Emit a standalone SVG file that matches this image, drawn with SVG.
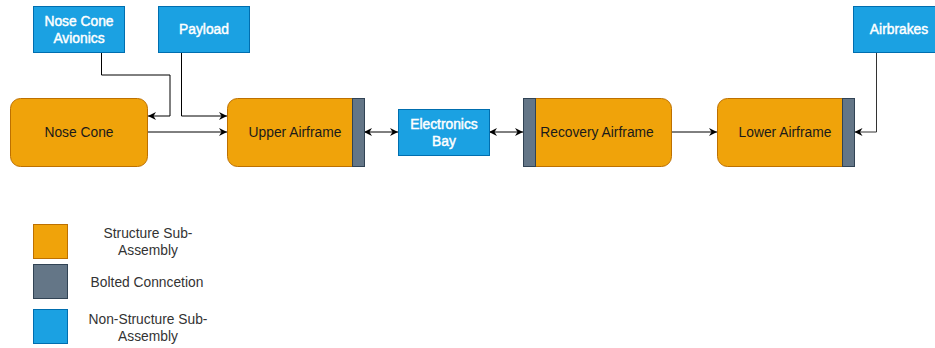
<svg xmlns="http://www.w3.org/2000/svg" width="935" height="348" viewBox="0 0 935 348">
<style>
.struct{fill:#f0a30a;stroke:#bd7000;stroke-width:1}
.bolt{fill:#647687;stroke:#314354;stroke-width:1}
.nons{fill:#1ba1e2;stroke:#006eaf;stroke-width:1}
.t{font-family:"Liberation Sans",Arial,sans-serif;font-size:13.8px;text-anchor:middle}
.dark{fill:#1a1a1a}
.white{fill:#fff;stroke:#fff;stroke-width:0.45px}
.leg{fill:#333}
.c{fill:none;stroke:#000;stroke-width:1}
</style>
<defs>
<marker id="ah" markerWidth="10" markerHeight="10" refX="9" refY="5" orient="auto" markerUnits="userSpaceOnUse">
<path d="M1,1 L9,5 L1,9 L3.5,5 Z" fill="#000"/>
</marker>
<marker id="as" markerWidth="10" markerHeight="10" refX="1" refY="5" orient="auto" markerUnits="userSpaceOnUse">
<path d="M9,1 L1,5 L9,9 L6.5,5 Z" fill="#000"/>
</marker>
</defs>
<rect width="935" height="348" fill="#fff"/>
<g id="connectors">
<path class="c" d="M101.5,52 V75 H170 V116 H148" marker-end="url(#ah)"/>
<path class="c" d="M181.5,52 V116 H227" marker-end="url(#ah)"/>
<path class="c" d="M147,132 H227" marker-end="url(#ah)"/>
<path class="c" d="M364,132 H398" marker-start="url(#as)" marker-end="url(#ah)"/>
<path class="c" d="M489,132 H523" marker-start="url(#as)" marker-end="url(#ah)"/>
<path class="c" d="M671,132 H717" marker-end="url(#ah)"/>
<path class="c" style="stroke:#333" d="M876.5,52 V132 H854.5" marker-end="url(#ah)"/>
</g>
<g id="nose-cone-avionics">
<rect class="nons" x="33.5" y="6.5" width="91" height="46"/>
<text class="t white" x="79" y="26">Nose Cone</text>
<text class="t white" x="79" y="43">Avionics</text>
</g>
<g id="payload">
<rect class="nons" x="158.5" y="6.5" width="91" height="46"/>
<text class="t white" x="204" y="34">Payload</text>
</g>
<g id="airbrakes">
<rect class="nons" x="853.5" y="6.5" width="91" height="46"/>
<text class="t white" x="899" y="34">Airbrakes</text>
</g>
<g id="nose-cone">
<rect class="struct" x="10.5" y="98.5" width="137" height="68" rx="10"/>
<text class="t dark" x="79" y="137">Nose Cone</text>
</g>
<g id="upper-airframe">
<path class="struct" d="M237.5,98.5 H352.5 V166.5 H237.5 A10,10 0 0 1 227.5,156.5 V108.5 A10,10 0 0 1 237.5,98.5 Z"/>
<rect class="bolt" x="352.5" y="98.5" width="12" height="68"/>
<text class="t dark" x="295" y="137">Upper Airframe</text>
</g>
<g id="electronics-bay">
<rect class="nons" x="398.5" y="109.5" width="91" height="46"/>
<text class="t white" x="444" y="129">Electronics</text>
<text class="t white" x="444" y="146">Bay</text>
</g>
<g id="recovery-airframe">
<path class="struct" d="M535.5,98.5 H661.5 A10,10 0 0 1 671.5,108.5 V156.5 A10,10 0 0 1 661.5,166.5 H535.5 Z"/>
<rect class="bolt" x="523.5" y="98.5" width="12" height="68"/>
<text class="t dark" x="597" y="137">Recovery Airframe</text>
</g>
<g id="lower-airframe">
<path class="struct" d="M727.5,98.5 H842.5 V166.5 H727.5 A10,10 0 0 1 717.5,156.5 V108.5 A10,10 0 0 1 727.5,98.5 Z"/>
<rect class="bolt" x="842.5" y="98.5" width="12" height="68"/>
<text class="t dark" x="785" y="137">Lower Airframe</text>
</g>
<g id="legend">
<rect class="struct" x="33.5" y="224.5" width="34" height="34"/>
<text class="t leg" x="148" y="238">Structure Sub-</text>
<text class="t leg" x="148" y="255">Assembly</text>
<rect class="bolt" x="33.5" y="264.5" width="34" height="34"/>
<text class="t leg" x="147" y="287">Bolted Conncetion</text>
<rect class="nons" x="33.5" y="309.5" width="34" height="34"/>
<text class="t leg" x="148" y="324">Non-Structure Sub-</text>
<text class="t leg" x="148" y="341">Assembly</text>
</g>
</svg>
